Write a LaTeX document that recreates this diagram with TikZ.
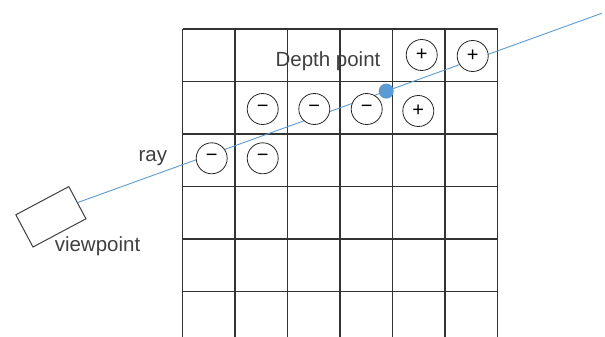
\documentclass[tikz,border=0pt]{standalone}
\usepackage{fontspec}
\setmainfont{Liberation Sans}
\usetikzlibrary{calc}
\definecolor{rayblue}{HTML}{5B9BD5}
\definecolor{txtgray}{HTML}{404040}
\begin{document}
\begin{tikzpicture}[x=1pt,y=-1pt,
  gridline/.style={draw=black!80,line width=1.05pt},
  sign/.style={circle,draw=black!85,fill=white,line width=0.8pt,minimum size=31pt,inner sep=0pt,font=\fontsize{20}{20}\selectfont},
  lbl/.style={text=txtgray,font=\fontsize{20.5}{24}\selectfont,inner sep=0pt},
  raystyle/.style={draw=rayblue,line width=0.9pt},
  cam/.style={draw=txtgray,line width=1pt,fill=white,minimum width=60pt,minimum height=36.5pt,rotate=28,inner sep=0pt}]
\useasboundingbox (0,0) rectangle (605,337);
% grid
\foreach \y in {29,81.5,134,186.5,239,291.5}
  \draw[gridline] (182.5,\y) -- (497.5,\y);
\foreach \x in {182.5,235,287.5,340,392.5,445,497.5}
  \draw[gridline] (\x,29) -- (\x,337);
% viewpoint
\node[cam] (vp) at (50.9,216.8) {};
\coordinate (rayend) at (601.7,13.3);
\draw[raystyle] (vp.east) -- (rayend);
% signs
\node[sign] (p1) at (421.7,55) {+};
\node[sign] (p2) at (472.7,56) {+};
\node[sign] (m1) at (262.7,109) {−};
\node[sign] (m2) at (314.3,109) {−};
\node[sign] (m3) at (366.7,109) {−};
\node[sign] (p3) at (418.3,111) {+};
\node[sign] (m4) at (211.7,158.3) {−};
\node[sign] (m5) at (262.7,158.3) {−};
% depth point
\node[circle,fill=rayblue,minimum size=15pt,inner sep=0pt] (dp) at ($(vp.east)!0.5886!(rayend)$) {};
% labels
\node[lbl] (dpl) at (328,61) {Depth point};
\node[lbl] (rayl) at (152.8,158.5) {ray};
\node[lbl] (vpl) at (97.5,246.5) {viewpoint};
\end{tikzpicture}
\end{document}
